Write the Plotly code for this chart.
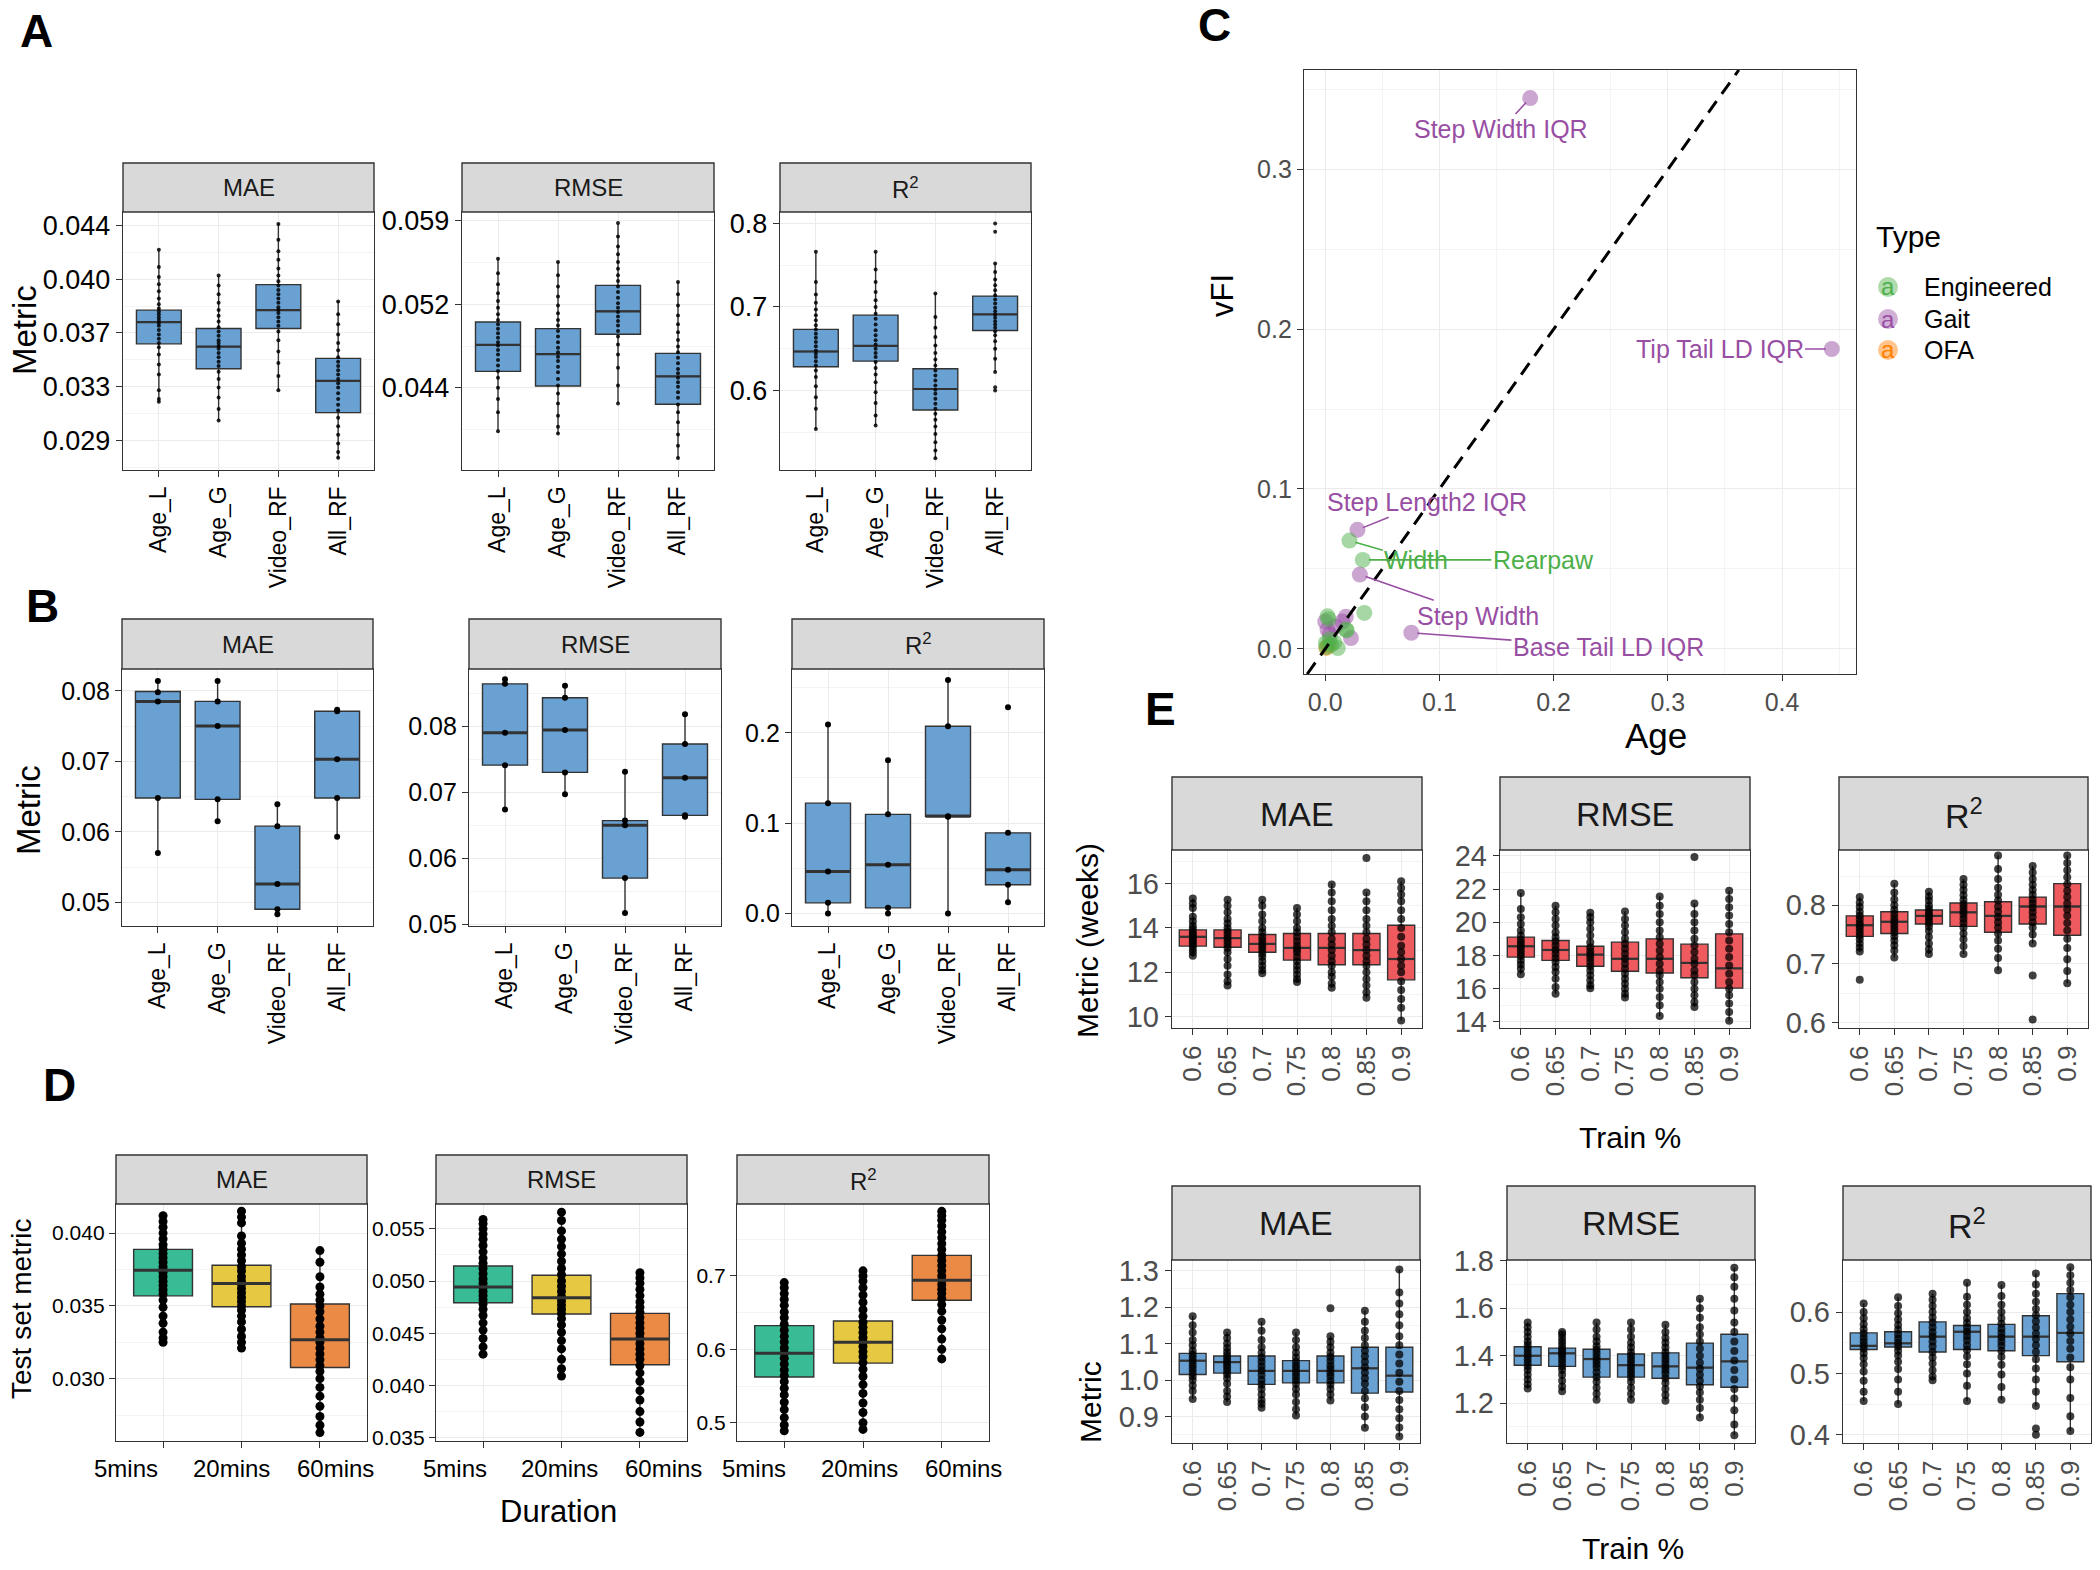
import plotly.graph_objects as go

# ============================ DATA ============================
# each box: [lower whisker, Q1, median, Q3, upper whisker]
A_CATS = ["Age_L", "Age_G", "Video_RF", "All_RF"]
A_MAE_STATS = [[0.03169, 0.03574, 0.03726, 0.03809, 0.04227],
               [0.03041, 0.03401, 0.03555, 0.03681, 0.04048],
               [0.03249, 0.03681, 0.03809, 0.03987, 0.04413],
               [0.02775, 0.03095, 0.03316, 0.03473, 0.03873]]
A_MAE_PTS = [[0.0423, 0.0411, 0.0404, 0.0399, 0.0394, 0.0389, 0.0385, 0.0382, 0.0380, 0.0378, 0.0376, 0.0374, 0.0372,
              0.0370, 0.0367, 0.0364, 0.0361, 0.0358, 0.0355, 0.0350, 0.0343, 0.0336, 0.0325, 0.0319, 0.0317],
             [0.0405, 0.0398, 0.0392, 0.0386, 0.0381, 0.0377, 0.0373, 0.0369, 0.0366, 0.0363, 0.0360, 0.0358, 0.0356,
              0.0354, 0.0351, 0.0348, 0.0345, 0.0342, 0.0338, 0.0333, 0.0327, 0.0320, 0.0312, 0.0304],
             [0.0441, 0.0430, 0.0422, 0.0416, 0.0410, 0.0405, 0.0401, 0.0398, 0.0395, 0.0392, 0.0389, 0.0386, 0.0383,
              0.0381, 0.0379, 0.0376, 0.0373, 0.0370, 0.0366, 0.0360, 0.0352, 0.0344, 0.0335, 0.0325],
             [0.0387, 0.0378, 0.0371, 0.0364, 0.0358, 0.0353, 0.0348, 0.0345, 0.0342, 0.0339, 0.0336, 0.0333, 0.0330,
              0.0327, 0.0323, 0.0319, 0.0315, 0.0311, 0.0306, 0.0300, 0.0294, 0.0288, 0.0282, 0.0278]]
A_RMSE_STATS = [[0.04012, 0.04548, 0.04785, 0.04991, 0.05557],
                [0.03988, 0.04417, 0.04702, 0.04932, 0.05533],
                [0.04263, 0.04881, 0.05087, 0.05320, 0.05876],
                [0.03765, 0.04253, 0.04503, 0.04709, 0.05351]]
A_RMSE_PTS = [[0.0556, 0.0543, 0.0533, 0.0525, 0.0518, 0.0512, 0.0506, 0.0501, 0.0497, 0.0493, 0.0489, 0.0485, 0.0481,
               0.0478, 0.0474, 0.0470, 0.0465, 0.0460, 0.0455, 0.0449, 0.0440, 0.0430, 0.0418, 0.0401],
              [0.0553, 0.0541, 0.0531, 0.0522, 0.0514, 0.0507, 0.0501, 0.0496, 0.0491, 0.0486, 0.0481, 0.0476, 0.0472,
               0.0468, 0.0464, 0.0459, 0.0454, 0.0448, 0.0442, 0.0435, 0.0426, 0.0415, 0.0405, 0.0399],
              [0.0588, 0.0576, 0.0567, 0.0560, 0.0553, 0.0547, 0.0541, 0.0536, 0.0531, 0.0526, 0.0521, 0.0516, 0.0512,
               0.0508, 0.0504, 0.0500, 0.0496, 0.0491, 0.0486, 0.0479, 0.0470, 0.0458, 0.0442, 0.0426],
              [0.0535, 0.0524, 0.0514, 0.0505, 0.0497, 0.0490, 0.0483, 0.0477, 0.0472, 0.0467, 0.0462, 0.0457, 0.0453,
               0.0449, 0.0445, 0.0441, 0.0436, 0.0431, 0.0425, 0.0418, 0.0409, 0.0398, 0.0388, 0.0377]]
A_R2_STATS = [[0.5538, 0.6284, 0.6467, 0.6732, 0.7657],
              [0.5583, 0.6352, 0.6535, 0.6902, 0.7657],
              [0.5185, 0.5766, 0.6018, 0.6261, 0.7162],
              [0.6220, 0.6718, 0.6911, 0.7130, 0.7520]]
A_R2_PTS = [[0.766, 0.730, 0.715, 0.705, 0.697, 0.690, 0.684, 0.678, 0.673, 0.668, 0.663, 0.658, 0.653, 0.648, 0.644,
             0.640, 0.635, 0.630, 0.624, 0.616, 0.605, 0.592, 0.578, 0.554],
            [0.766, 0.745, 0.730, 0.718, 0.708, 0.700, 0.692, 0.686, 0.679, 0.672, 0.666, 0.660, 0.655, 0.650, 0.645,
             0.640, 0.634, 0.627, 0.619, 0.610, 0.598, 0.585, 0.570, 0.558],
            [0.716, 0.688, 0.675, 0.664, 0.654, 0.645, 0.637, 0.630, 0.624, 0.618, 0.612, 0.606, 0.601, 0.596, 0.590,
             0.584, 0.578, 0.572, 0.565, 0.557, 0.548, 0.538, 0.528, 0.519],
            [0.800, 0.790, 0.752, 0.742, 0.733, 0.726, 0.720, 0.714, 0.709, 0.704, 0.699, 0.695, 0.691, 0.687, 0.683,
             0.679, 0.675, 0.671, 0.666, 0.659, 0.650, 0.638, 0.622, 0.604, 0.600]]
A_MAE_TICKS = [0.029, 0.03275, 0.0365, 0.04025, 0.044]
A_MAE_TICKTEXT = ["0.029", "0.033", "0.037", "0.040", "0.044"]
A_RMSE_TICKS = [0.044, 0.0515, 0.059]
A_RMSE_TICKTEXT = ["0.044", "0.052", "0.059"]
A_R2_TICKS = [0.6, 0.7, 0.8]

B_CATS = A_CATS
B_MAE_STATS = [[0.0570, 0.0648, 0.0785, 0.0799, 0.0814],
               [0.0615, 0.0646, 0.0750, 0.0785, 0.0814],
               [0.0483, 0.0490, 0.0526, 0.0608, 0.0639],
               [0.0593, 0.0648, 0.0703, 0.0771, 0.0773]]
B_MAE_PTS = [[0.0814, 0.0798, 0.0785, 0.0648, 0.0570], [0.0814, 0.0785, 0.0750, 0.0646, 0.0615],
             [0.0639, 0.0608, 0.0526, 0.0490, 0.0483], [0.0773, 0.0771, 0.0703, 0.0648, 0.0593]]
B_RMSE_STATS = [[0.0674, 0.0741, 0.0790, 0.0864, 0.0871],
                [0.0697, 0.0730, 0.0794, 0.0843, 0.0861],
                [0.0517, 0.0570, 0.0650, 0.0657, 0.0731],
                [0.0663, 0.0665, 0.0722, 0.0773, 0.0818]]
B_RMSE_PTS = [[0.0871, 0.0864, 0.0790, 0.0741, 0.0674], [0.0861, 0.0843, 0.0794, 0.0730, 0.0697],
              [0.0731, 0.0657, 0.0650, 0.0570, 0.0517], [0.0818, 0.0773, 0.0722, 0.0665, 0.0663]]
B_R2_STATS = [[0.0000, 0.0117, 0.0464, 0.1221, 0.2091],
              [0.0000, 0.0062, 0.0538, 0.1097, 0.1697],
              [0.0000, 0.1075, 0.1075, 0.2073, 0.2585],
              [0.0124, 0.0318, 0.0483, 0.0892, 0.0892]]
B_R2_PTS = [[0.2091, 0.1221, 0.0464, 0.0117, 0.0], [0.1697, 0.1097, 0.0538, 0.0062, 0.0],
            [0.2585, 0.2073, 0.1075, 0.1070, 0.0], [0.2282, 0.0892, 0.0483, 0.0318, 0.0124]]
B_MAE_TICKS = [0.05, 0.06, 0.07, 0.08]
B_RMSE_TICKS = [0.05, 0.06, 0.07, 0.08]
B_R2_TICKS = [0.0, 0.1, 0.2]

D_CATS = ["5mins", "20mins", "60mins"]
D_MAE_STATS = [[0.03251, 0.03569, 0.03745, 0.03888, 0.04116],
               [0.03205, 0.03494, 0.03654, 0.03779, 0.04148],
               [0.02629, 0.03077, 0.03267, 0.03513, 0.03877]]
D_MAE_PTS = [[0.0412, 0.0408, 0.0404, 0.0400, 0.0396, 0.0392, 0.0389, 0.0386, 0.0383, 0.0380, 0.0377, 0.0375, 0.0373,
              0.0370, 0.0367, 0.0364, 0.0361, 0.0358, 0.0354, 0.0349, 0.0343, 0.0338, 0.0332, 0.0328, 0.0325],
             [0.0415, 0.0411, 0.0407, 0.0398, 0.0393, 0.0389, 0.0385, 0.0381, 0.0377, 0.0374, 0.0370, 0.0367, 0.0365,
              0.0362, 0.0359, 0.0356, 0.0353, 0.0350, 0.0347, 0.0343, 0.0339, 0.0334, 0.0329, 0.0325, 0.0321],
             [0.0388, 0.0380, 0.0370, 0.0363, 0.0358, 0.0354, 0.0350, 0.0346, 0.0341, 0.0336, 0.0332, 0.0328, 0.0325,
              0.0321, 0.0317, 0.0313, 0.0309, 0.0305, 0.0300, 0.0294, 0.0288, 0.0281, 0.0274, 0.0268, 0.0263]]
D_RMSE_STATS = [[0.04303, 0.04792, 0.04944, 0.05144, 0.05589],
                [0.04093, 0.04684, 0.04840, 0.05056, 0.05659],
                [0.03554, 0.04198, 0.04446, 0.04690, 0.05078]]
D_RMSE_PTS = [[0.0559, 0.0555, 0.0550, 0.0545, 0.0540, 0.0534, 0.0528, 0.0522, 0.0517, 0.0512, 0.0507, 0.0502, 0.0498,
               0.0494, 0.0490, 0.0486, 0.0482, 0.0478, 0.0473, 0.0467, 0.0460, 0.0453, 0.0445, 0.0437, 0.0430],
              [0.0566, 0.0558, 0.0548, 0.0540, 0.0533, 0.0526, 0.0519, 0.0512, 0.0506, 0.0500, 0.0495, 0.0490, 0.0485,
               0.0481, 0.0477, 0.0473, 0.0469, 0.0464, 0.0458, 0.0451, 0.0443, 0.0435, 0.0425, 0.0416, 0.0409],
              [0.0508, 0.0503, 0.0498, 0.0492, 0.0486, 0.0480, 0.0475, 0.0470, 0.0465, 0.0460, 0.0455, 0.0450, 0.0445,
               0.0440, 0.0435, 0.0430, 0.0425, 0.0419, 0.0412, 0.0404, 0.0395, 0.0386, 0.0375, 0.0365, 0.0355]]
D_R2_STATS = [[0.4887, 0.5623, 0.5948, 0.6323, 0.6910],
              [0.4910, 0.5813, 0.6097, 0.6386, 0.7068],
              [0.5880, 0.6670, 0.6941, 0.7280, 0.7880]]
D_R2_PTS = [[0.691, 0.684, 0.676, 0.668, 0.660, 0.651, 0.643, 0.634, 0.626, 0.618, 0.610, 0.602, 0.595, 0.588, 0.580,
             0.572, 0.564, 0.556, 0.547, 0.538, 0.528, 0.518, 0.507, 0.497, 0.489],
            [0.707, 0.700, 0.693, 0.684, 0.674, 0.664, 0.654, 0.645, 0.637, 0.630, 0.623, 0.616, 0.610, 0.604, 0.597,
             0.590, 0.582, 0.573, 0.563, 0.552, 0.540, 0.527, 0.514, 0.500, 0.491],
            [0.788, 0.782, 0.776, 0.768, 0.760, 0.752, 0.744, 0.736, 0.728, 0.721, 0.714, 0.707, 0.700, 0.694, 0.688,
             0.682, 0.676, 0.669, 0.661, 0.652, 0.640, 0.628, 0.614, 0.600, 0.587]]
D_MAE_TICKS = [0.030, 0.035, 0.040]
D_RMSE_TICKS = [0.035, 0.040, 0.045, 0.050, 0.055]
D_R2_TICKS = [0.5, 0.6, 0.7]

# Panel C: feature importance (vFI) vs Age
C_ENG_X = [0.0212, 0.0329, 0.0342, 0.0020, 0.0030, 0.0180, 0.0006, 0.0050, 0.0110, 0.0190, 0.0080, 0.0010, 0.0040]
C_ENG_Y = [0.0677, 0.0556, 0.0224, 0.0203, 0.0185, 0.0120, 0.0036, 0.0025, 0.0004, 0.0115, 0.0040, 0.0010, 0.0060]
C_GAIT_X = [0.1795, 0.4436, 0.0282, 0.0303, 0.0754, 0.0180, 0.0225, 0.0020, 0.0090, 0.0000, 0.0150, 0.0040]
C_GAIT_Y = [0.3446, 0.1876, 0.0744, 0.0464, 0.0100, 0.0200, 0.0067, 0.0120, 0.0140, 0.0170, 0.0170, 0.0090]
C_OFA_X = [0.0010, 0.0030]
C_OFA_Y = [0.0005, 0.0020]
C_TYPES = ["Engineered", "Gait", "OFA"]
C_LABEL_TEXT = ["Step Width IQR", "Tip Tail LD IQR", "Step Length2 IQR", "Width", "Rearpaw", "Step Width",
                "Base Tail LD IQR"]
C_LABEL_SRC = [("Gait", 0), ("Gait", 1), ("Gait", 2), ("Engineered", 0), ("Engineered", 1), ("Gait", 3), ("Gait", 4)]
C_XTICKS = [0.0, 0.1, 0.2, 0.3, 0.4]
C_YTICKS = [0.0, 0.1, 0.2, 0.3]

# Panel E
E_CATS = ["0.6", "0.65", "0.7", "0.75", "0.8", "0.85", "0.9"]
E1_MAE_STATS = [[12.70, 13.18, 13.60, 13.91, 15.32], [11.40, 13.13, 13.54, 13.91, 15.27],
                [11.96, 12.90, 13.28, 13.70, 15.27], [11.56, 12.55, 13.10, 13.75, 14.90],
                [11.30, 12.34, 13.10, 13.75, 16.00], [10.85, 12.34, 13.00, 13.75, 15.60],
                [9.83, 11.66, 12.60, 14.12, 16.10]]
E1_MAE_PTS = [[15.32, 15.1, 14.9, 14.5, 14.3, 14.1, 13.95, 13.8, 13.7, 13.6, 13.5, 13.4, 13.3, 13.2, 13.05, 12.9, 12.75],
              [15.27, 15.0, 14.7, 14.4, 14.2, 14.0, 13.85, 13.7, 13.55, 13.4, 13.25, 13.1, 12.9, 12.6, 12.3, 11.9, 11.6, 11.4],
              [15.27, 15.0, 14.6, 14.3, 14.0, 13.8, 13.6, 13.45, 13.3, 13.15, 13.0, 12.85, 12.7, 12.5, 12.3, 12.1, 11.96],
              [14.9, 14.6, 14.3, 14.0, 13.8, 13.6, 13.4, 13.2, 13.05, 12.9, 12.7, 12.5, 12.3, 12.1, 11.9, 11.7, 11.56],
              [15.95, 15.6, 15.2, 14.8, 14.4, 14.1, 13.8, 13.5, 13.25, 13.0, 12.75, 12.5, 12.3, 12.0, 11.8, 11.5, 11.3],
              [17.15, 15.6, 15.2, 14.8, 14.4, 14.1, 13.8, 13.5, 13.25, 13.0, 12.75, 12.5, 12.3, 12.0, 11.7, 11.4, 11.1, 10.85],
              [16.1, 15.8, 15.5, 15.2, 14.8, 14.4, 14.0, 13.6, 13.2, 12.9, 12.6, 12.3, 12.0, 11.6, 11.2, 10.8, 10.4, 9.83]]
E1_RMSE_STATS = [[16.87, 17.90, 18.55, 19.10, 21.76], [15.70, 17.70, 18.33, 18.90, 21.00],
                 [16.03, 17.35, 18.05, 18.55, 20.57], [15.47, 17.05, 17.80, 18.80, 20.64],
                 [14.35, 16.94, 17.80, 19.00, 21.55], [14.90, 16.66, 17.55, 18.68, 21.13],
                 [14.07, 16.03, 17.22, 19.30, 21.90]]
E1_RMSE_PTS = [[21.76, 20.8, 20.3, 19.9, 19.5, 19.2, 18.95, 18.75, 18.55, 18.35, 18.15, 17.95, 17.7, 17.45, 17.2, 16.87],
               [21.0, 20.6, 20.2, 19.8, 19.4, 19.1, 18.85, 18.6, 18.35, 18.1, 17.85, 17.6, 17.3, 17.0, 16.6, 16.1, 15.7],
               [20.57, 20.3, 20.0, 19.6, 19.2, 18.8, 18.5, 18.25, 18.05, 17.85, 17.6, 17.35, 17.1, 16.8, 16.5, 16.2, 16.03],
               [20.64, 20.2, 19.8, 19.4, 19.0, 18.7, 18.4, 18.1, 17.8, 17.5, 17.2, 16.9, 16.6, 16.3, 16.0, 15.7, 15.47],
               [21.55, 21.0, 20.5, 20.0, 19.5, 19.1, 18.7, 18.3, 17.9, 17.5, 17.1, 16.8, 16.4, 16.0, 15.5, 15.0, 14.35],
               [23.93, 21.13, 20.5, 20.0, 19.5, 19.0, 18.6, 18.2, 17.8, 17.5, 17.1, 16.8, 16.4, 16.0, 15.6, 15.2, 14.9],
               [21.9, 21.4, 20.9, 20.4, 19.9, 19.4, 18.9, 18.4, 17.9, 17.4, 16.9, 16.4, 16.0, 15.6, 15.1, 14.6, 14.07]]
E1_R2_STATS = [[0.721, 0.747, 0.766, 0.782, 0.814], [0.711, 0.752, 0.772, 0.789, 0.837],
               [0.717, 0.768, 0.782, 0.792, 0.823], [0.717, 0.764, 0.788, 0.804, 0.845],
               [0.689, 0.754, 0.782, 0.806, 0.885], [0.735, 0.768, 0.798, 0.814, 0.867],
               [0.667, 0.749, 0.798, 0.837, 0.885]]
E1_R2_PTS = [[0.814, 0.805, 0.797, 0.789, 0.782, 0.776, 0.770, 0.765, 0.760, 0.754, 0.748, 0.742, 0.735, 0.728, 0.721, 0.673],
             [0.837, 0.822, 0.810, 0.800, 0.792, 0.785, 0.778, 0.772, 0.766, 0.760, 0.754, 0.747, 0.740, 0.732, 0.723, 0.711],
             [0.823, 0.815, 0.808, 0.800, 0.794, 0.789, 0.784, 0.780, 0.775, 0.770, 0.764, 0.756, 0.746, 0.735, 0.725, 0.717],
             [0.845, 0.835, 0.826, 0.817, 0.809, 0.802, 0.796, 0.790, 0.784, 0.777, 0.770, 0.762, 0.752, 0.742, 0.730, 0.717],
             [0.885, 0.862, 0.845, 0.830, 0.818, 0.808, 0.798, 0.789, 0.780, 0.771, 0.762, 0.752, 0.740, 0.726, 0.710, 0.689],
             [0.867, 0.856, 0.845, 0.835, 0.826, 0.818, 0.810, 0.803, 0.796, 0.788, 0.780, 0.771, 0.762, 0.750, 0.735, 0.680, 0.605],
             [0.885, 0.872, 0.860, 0.848, 0.836, 0.825, 0.814, 0.803, 0.793, 0.782, 0.770, 0.757, 0.743, 0.727, 0.708, 0.688, 0.667]]
E1_MAE_TICKS = [10, 12, 14, 16]
E1_RMSE_TICKS = [14, 16, 18, 20, 22, 24]
E1_R2_TICKS = [0.6, 0.7, 0.8]

E2_MAE_STATS = [[0.948, 1.015, 1.053, 1.073, 1.175], [0.940, 1.019, 1.049, 1.066, 1.130],
                [0.924, 0.988, 1.025, 1.066, 1.160], [0.903, 0.992, 1.025, 1.053, 1.130],
                [0.944, 0.992, 1.025, 1.066, 1.120], [0.869, 0.964, 1.032, 1.090, 1.190],
                [0.845, 0.967, 1.012, 1.090, 1.303]]
E2_MAE_PTS = [[1.175, 1.15, 1.13, 1.11, 1.095, 1.08, 1.07, 1.06, 1.05, 1.04, 1.03, 1.02, 1.01, 1.0, 0.985, 0.97, 0.948],
              [1.13, 1.115, 1.10, 1.088, 1.077, 1.067, 1.058, 1.05, 1.042, 1.034, 1.025, 1.016, 1.005, 0.99, 0.97, 0.955, 0.94],
              [1.16, 1.135, 1.11, 1.09, 1.075, 1.062, 1.05, 1.038, 1.026, 1.014, 1.0, 0.988, 0.975, 0.96, 0.945, 0.935, 0.924],
              [1.13, 1.11, 1.09, 1.075, 1.062, 1.05, 1.04, 1.03, 1.02, 1.01, 1.0, 0.99, 0.975, 0.96, 0.94, 0.92, 0.903],
              [1.197, 1.12, 1.105, 1.09, 1.075, 1.063, 1.052, 1.04, 1.03, 1.02, 1.01, 0.998, 0.988, 0.975, 0.96, 0.944],
              [1.19, 1.16, 1.135, 1.115, 1.095, 1.08, 1.065, 1.05, 1.035, 1.02, 1.005, 0.99, 0.97, 0.95, 0.925, 0.9, 0.869],
              [1.303, 1.24, 1.21, 1.18, 1.15, 1.12, 1.095, 1.07, 1.045, 1.02, 0.995, 0.97, 0.945, 0.92, 0.895, 0.87, 0.845]]
E2_RMSE_STATS = [[1.262, 1.360, 1.400, 1.438, 1.540], [1.250, 1.355, 1.410, 1.432, 1.500],
                 [1.215, 1.310, 1.386, 1.427, 1.540], [1.215, 1.310, 1.360, 1.407, 1.540],
                 [1.210, 1.305, 1.355, 1.412, 1.530], [1.140, 1.278, 1.350, 1.453, 1.640],
                 [1.065, 1.267, 1.376, 1.490, 1.770]]
E2_RMSE_PTS = [[1.54, 1.52, 1.50, 1.48, 1.46, 1.445, 1.43, 1.415, 1.40, 1.385, 1.37, 1.355, 1.34, 1.32, 1.30, 1.28, 1.262],
               [1.50, 1.49, 1.475, 1.46, 1.445, 1.43, 1.42, 1.41, 1.40, 1.385, 1.37, 1.355, 1.34, 1.32, 1.295, 1.27, 1.25],
               [1.54, 1.51, 1.48, 1.46, 1.44, 1.425, 1.41, 1.395, 1.38, 1.365, 1.35, 1.33, 1.31, 1.29, 1.265, 1.24, 1.215],
               [1.54, 1.51, 1.48, 1.455, 1.435, 1.415, 1.40, 1.385, 1.37, 1.355, 1.34, 1.325, 1.31, 1.29, 1.265, 1.24, 1.215],
               [1.53, 1.50, 1.475, 1.455, 1.435, 1.415, 1.40, 1.385, 1.37, 1.355, 1.34, 1.325, 1.305, 1.285, 1.26, 1.235, 1.21],
               [1.64, 1.60, 1.56, 1.52, 1.49, 1.46, 1.43, 1.40, 1.37, 1.345, 1.32, 1.295, 1.27, 1.245, 1.215, 1.18, 1.14],
               [1.77, 1.73, 1.69, 1.64, 1.59, 1.54, 1.50, 1.46, 1.42, 1.38, 1.34, 1.30, 1.26, 1.22, 1.17, 1.11, 1.065]]
E2_R2_STATS = [[0.455, 0.539, 0.545, 0.566, 0.614], [0.450, 0.543, 0.549, 0.568, 0.624],
               [0.489, 0.535, 0.560, 0.584, 0.630], [0.455, 0.539, 0.568, 0.578, 0.648],
               [0.457, 0.537, 0.560, 0.580, 0.644], [0.447, 0.529, 0.560, 0.594, 0.663],
               [0.406, 0.519, 0.566, 0.630, 0.673]]
E2_R2_PTS = [[0.614, 0.600, 0.590, 0.580, 0.572, 0.565, 0.558, 0.552, 0.546, 0.540, 0.533, 0.525, 0.515, 0.503, 0.488, 0.470, 0.455],
             [0.624, 0.610, 0.598, 0.588, 0.579, 0.571, 0.564, 0.557, 0.550, 0.544, 0.537, 0.529, 0.519, 0.507, 0.490, 0.470, 0.450],
             [0.630, 0.620, 0.610, 0.600, 0.591, 0.583, 0.575, 0.567, 0.560, 0.552, 0.544, 0.535, 0.526, 0.516, 0.505, 0.495, 0.489],
             [0.648, 0.625, 0.612, 0.600, 0.590, 0.582, 0.575, 0.568, 0.561, 0.554, 0.546, 0.538, 0.528, 0.515, 0.500, 0.480, 0.455],
             [0.644, 0.626, 0.612, 0.600, 0.590, 0.581, 0.573, 0.566, 0.559, 0.552, 0.545, 0.537, 0.527, 0.514, 0.498, 0.478, 0.457],
             [0.663, 0.645, 0.630, 0.617, 0.605, 0.595, 0.585, 0.575, 0.565, 0.556, 0.546, 0.535, 0.523, 0.508, 0.490, 0.470, 0.447, 0.410, 0.400],
             [0.673, 0.660, 0.648, 0.636, 0.624, 0.612, 0.600, 0.588, 0.576, 0.565, 0.553, 0.540, 0.526, 0.510, 0.490, 0.460, 0.430, 0.406]]
E2_MAE_TICKS = [0.9, 1.0, 1.1, 1.2, 1.3]
E2_RMSE_TICKS = [1.2, 1.4, 1.6, 1.8]
E2_R2_TICKS = [0.4, 0.5, 0.6]

# ============================ STYLE / LAYOUT ============================
W, H = 2100, 1570
FONT = "Liberation Sans, Arial, sans-serif"
BORDER = "#333333"
GRID = "#EBEBEB"
MINOR = "#F4F4F4"
BLUE = "#69A1D3"
RED = "#EE5A5E"
D_FILLS = ["rgba(30,178,136,0.88)", "rgba(226,192,40,0.88)", "rgba(232,122,42,0.88)"]
C_COLORS = {"Engineered": "#4DAF4A", "Gait": "#984EA3", "OFA": "#FF7F00"}
R2 = "R<sup>2</sup>"

fig = go.Figure()
lay = dict(width=W, height=H, autosize=False,
           margin=dict(l=0, r=0, t=0, b=0, pad=0, autoexpand=False), paper_bgcolor="white",
           plot_bgcolor="white", showlegend=False, font=dict(family=FONT, color="black"),
           boxmode="overlay")
annots, shapes = [], []
counter = [0]


def fx(p):
    return p / W


def fy(p):
    return 1 - p / H


def base_axis():
    return dict(showline=True, mirror=True, linecolor=BORDER, linewidth=1.4, ticks="outside", ticklen=6,
                tickwidth=1.4, tickcolor=BORDER, showgrid=True, gridcolor=GRID, gridwidth=1.4,
                zeroline=False, fixedrange=True, automargin=False)


def minor_vals(tv, rng):
    step = (tv[1] - tv[0]) / 2.0
    cand = [tv[0] - step] + [t + step for t in tv]
    return [c for c in cand if min(rng) < c < max(rng)]


def make_axes(x0, x1, y0, y1, xr, yr, xkw, ykw):
    counter[0] += 1
    n = counter[0]
    s = "" if n == 1 else str(n)
    lay["xaxis" + s] = dict(domain=[fx(x0), fx(x1)], range=xr, anchor="y" + s, **xkw)
    lay["yaxis" + s] = dict(domain=[fy(y1), fy(y0)], range=yr, anchor="x" + s, **ykw)
    return "x" + s, "y" + s


def text_at(px, py, text, size, angle=0, color="black", xanchor="center", yanchor="middle"):
    annots.append(dict(xref="paper", yref="paper", x=fx(px), y=fy(py), text=text, showarrow=False,
                       textangle=angle, font=dict(size=size, color=color, family=FONT),
                       xanchor=xanchor, yanchor=yanchor))


def strip(x0, x1, y0, y1, text, size):
    shapes.append(dict(type="rect", xref="paper", yref="paper", x0=fx(x0), x1=fx(x1), y0=fy(y1), y1=fy(y0),
                       fillcolor="#D9D9D9", line=dict(color=BORDER, width=1.4), layer="above"))
    text_at((x0 + x1) / 2, (y0 + y1) / 2, text, size, color="#1A1A1A")


def box_facet(geom, strip_text, cats, stats, pts, yr, tv, tt, fills, st):
    x0, x1, y0, y1, s0 = geom
    n = len(cats)
    pos = list(range(n))
    xkw = base_axis()
    xkw.update(tickvals=pos, ticktext=cats, showticklabels=st.get("xlabels", True),
               tickangle=st["xangle"], tickfont=dict(size=st["xtick"], color=st["tcol"], family=FONT))
    ykw = base_axis()
    ykw.update(tickvals=tv, ticktext=tt if tt is not None else [st["fmt"].format(v) for v in tv],
               tickfont=dict(size=st["ytick"], color=st["tcol"], family=FONT),
               minor=dict(tickvals=minor_vals(tv, yr), showgrid=True, gridcolor=MINOR, gridwidth=1, ticks=""))
    xa, ya = make_axes(x0, x1, y0, y1, [-0.6, n - 0.4], yr, xkw, ykw)
    strip(x0, x1, s0, y0, strip_text, st["strip"])
    xs, ys = [], []
    for i, p in enumerate(pts):
        xs += [i] * len(p)
        ys += p
    pt_trace = go.Scatter(x=xs, y=ys, mode="markers", xaxis=xa, yaxis=ya, hoverinfo="skip",
                          marker=dict(size=st["pt"], color="black", opacity=st["pto"], line=dict(width=0)))
    if st["below"]:
        fig.add_trace(pt_trace)
    bw = st["bw"]
    for i, s in enumerate(stats):
        fill = fills[i] if isinstance(fills, list) else fills
        fig.add_trace(go.Box(x=[i], lowerfence=[s[0]], q1=[s[1]], median=[s[2]], q3=[s[3]], upperfence=[s[4]],
                             width=bw, fillcolor=fill, line=dict(color=BORDER, width=1.4), whiskerwidth=0,
                             boxpoints=False, xaxis=xa, yaxis=ya, hoverinfo="skip"))
    mx, my = [], []
    for i, s in enumerate(stats):
        mx += [i - bw / 2, i + bw / 2, None]
        my += [s[2], s[2], None]
    fig.add_trace(go.Scatter(x=mx, y=my, mode="lines", line=dict(color=BORDER, width=st["medw"]),
                             xaxis=xa, yaxis=ya, hoverinfo="skip"))
    if not st["below"]:
        fig.add_trace(pt_trace)


ST_A = dict(xangle=-90, xtick=23, ytick=27, tcol="black", strip=24, pt=4, pto=0.85, below=False, bw=0.75,
            medw=2.2, fmt="{:.3f}")
ST_B = dict(ST_A, ytick=25, pt=6, pto=1.0, medw=3, fmt="{:.2f}")
ST_D = dict(xangle=0, xtick=24, ytick=21, tcol="black", strip=24, pt=9, pto=1.0, below=True, bw=0.75,
            medw=3, fmt="{:.3f}", xlabels=False)
ST_E = dict(xangle=-90, xtick=26, ytick=29, tcol="#4D4D4D", strip=34, pt=8, pto=0.75, below=False, bw=0.78,
            medw=2.2, fmt="{:g}")

# ---------------- Panel A ----------------
box_facet((123, 374, 212, 470, 163), "MAE", A_CATS, A_MAE_STATS, A_MAE_PTS, [0.02695, 0.04493],
          A_MAE_TICKS, A_MAE_TICKTEXT, BLUE, ST_A)
box_facet((462, 714, 212, 470, 163), "RMSE", A_CATS, A_RMSE_STATS, A_RMSE_PTS, [0.03662, 0.05979],
          A_RMSE_TICKS, A_RMSE_TICKTEXT, BLUE, ST_A)
box_facet((780, 1031, 212, 470, 163), R2, A_CATS, A_R2_STATS, A_R2_PTS, [0.5048, 0.8137],
          A_R2_TICKS, None, BLUE, dict(ST_A, fmt="{:.1f}"))

# ---------------- Panel B ----------------
box_facet((122, 373, 669, 926, 619), "MAE", B_CATS, B_MAE_STATS, B_MAE_PTS, [0.04663, 0.0831],
          B_MAE_TICKS, None, BLUE, ST_B)
box_facet((469, 721, 669, 926, 619), "RMSE", B_CATS, B_RMSE_STATS, B_RMSE_PTS, [0.04975, 0.08865],
          B_RMSE_TICKS, None, BLUE, ST_B)
box_facet((792, 1044, 669, 926, 619), R2, B_CATS, B_R2_STATS, B_R2_PTS, [-0.0139, 0.2706],
          B_R2_TICKS, None, BLUE, dict(ST_B, fmt="{:.1f}"))

# ---------------- Panel D ----------------
box_facet((116, 367, 1204, 1441, 1155), "MAE", D_CATS, D_MAE_STATS, D_MAE_PTS, [0.02572, 0.0420],
          D_MAE_TICKS, None, D_FILLS, ST_D)
box_facet((436, 687, 1204, 1441, 1155), "RMSE", D_CATS, D_RMSE_STATS, D_RMSE_PTS, [0.03468, 0.05738],
          D_RMSE_TICKS, None, D_FILLS, ST_D)
box_facet((737, 989, 1204, 1441, 1155), R2, D_CATS, D_R2_STATS, D_R2_PTS, [0.4752, 0.798],
          D_R2_TICKS, None, D_FILLS, dict(ST_D, fmt="{:.1f}"))
# D category labels (spread wider than the ticks, as in the original figure)
D_LABEL_X = [[126, 231, 335], [455, 559, 663], [754, 859, 963]]
for row in D_LABEL_X:
    for cat, lx in zip(D_CATS, row):
        text_at(lx, 1468, cat, 24)

# ---------------- Panel E (top, weeks) ----------------
box_facet((1172, 1422, 850, 1028, 777), "MAE", E_CATS, E1_MAE_STATS, E1_MAE_PTS, [9.49, 17.51],
          E1_MAE_TICKS, None, RED, ST_E)
box_facet((1500, 1750, 850, 1028, 777), "RMSE", E_CATS, E1_RMSE_STATS, E1_RMSE_PTS, [13.63, 24.35],
          E1_RMSE_TICKS, None, RED, ST_E)
box_facet((1839, 2088, 850, 1028, 777), R2, E_CATS, E1_R2_STATS, E1_R2_PTS, [0.5906, 0.8944],
          E1_R2_TICKS, None, RED, dict(ST_E, fmt="{:.1f}"))

# ---------------- Panel E (bottom) ----------------
box_facet((1172, 1420, 1260, 1443, 1186), "MAE", E_CATS, E2_MAE_STATS, E2_MAE_PTS, [0.8273, 1.329],
          E2_MAE_TICKS, None, BLUE, dict(ST_E, fmt="{:.1f}"))
box_facet((1507, 1755, 1260, 1443, 1186), "RMSE", E_CATS, E2_RMSE_STATS, E2_RMSE_PTS, [1.0326, 1.8028],
          E2_RMSE_TICKS, None, BLUE, dict(ST_E, fmt="{:.1f}"))
box_facet((1843, 2091, 1260, 1443, 1186), R2, E_CATS, E2_R2_STATS, E2_R2_PTS, [0.3865, 0.6849],
          E2_R2_TICKS, None, BLUE, dict(ST_E, fmt="{:.1f}"))

# ---------------- Panel C ----------------
C_XR = [-0.0186, 0.4648]
C_YR = [-0.0158, 0.3622]
cx = base_axis()
cx.update(tickvals=C_XTICKS, ticktext=["{:.1f}".format(v) for v in C_XTICKS],
          tickfont=dict(size=25, color="#4D4D4D", family=FONT),
          minor=dict(tickvals=minor_vals(C_XTICKS, C_XR), showgrid=True, gridcolor=MINOR, gridwidth=1, ticks=""))
cy = base_axis()
cy.update(tickvals=C_YTICKS, ticktext=["{:.1f}".format(v) for v in C_YTICKS],
          tickfont=dict(size=25, color="#4D4D4D", family=FONT),
          minor=dict(tickvals=minor_vals(C_YTICKS, C_YR), showgrid=True, gridcolor=MINOR, gridwidth=1, ticks=""))
cxa, cya = make_axes(1304, 1856, 70, 674, C_XR, C_YR, cx, cy)
C_SERIES = {"Engineered": (C_ENG_X, C_ENG_Y), "Gait": (C_GAIT_X, C_GAIT_Y), "OFA": (C_OFA_X, C_OFA_Y)}
for t in ["OFA", "Gait", "Engineered"]:
    xs, ys = C_SERIES[t]
    fig.add_trace(go.Scatter(x=xs, y=ys, mode="markers", xaxis=cxa, yaxis=cya, hoverinfo="skip",
                             marker=dict(size=16, color=C_COLORS[t], opacity=0.5, line=dict(width=0))))
shapes.append(dict(type="line", xref=cxa, yref=cya, x0=C_YR[0], y0=C_YR[0], x1=C_YR[1], y1=C_YR[1],
                   line=dict(color="black", width=3, dash="14px,9px"), layer="above"))
# label placements (text centre, data units)
C_LABEL_POS = [(0.154, 0.325), (0.3453, 0.1876), (0.0892, 0.092), (0.0797, 0.0556), (0.191, 0.0556),
               (0.134, 0.0206), (0.248, 0.0009)]
for txt, (typ, idx), (lx, ly) in zip(C_LABEL_TEXT, C_LABEL_SRC, C_LABEL_POS):
    px_, py_ = C_SERIES[typ][0][idx], C_SERIES[typ][1][idx]
    annots.append(dict(xref=cxa, yref=cya, axref=cxa, ayref=cya, x=px_, y=py_, ax=lx, ay=ly, text=txt,
                       showarrow=True, arrowhead=0, arrowwidth=1.6, arrowcolor=C_COLORS[typ], standoff=6,
                       font=dict(size=25, color=C_COLORS[typ], family=FONT)))
text_at(1223, 296, "vFI", 31, angle=-90)
text_at(1656, 735, "Age", 35)
# legend
text_at(1874, 237, "Type", 30, xanchor="left")
for t, yy in zip(C_TYPES, [287, 319, 350]):
    shapes.append(dict(type="circle", xref="paper", yref="paper", x0=fx(1878), x1=fx(1898), y0=fy(yy + 10),
                       y1=fy(yy - 10), fillcolor=C_COLORS[t], opacity=0.45, line=dict(width=0)))
    text_at(1888, yy, "a", 24, color=C_COLORS[t])
    text_at(1922, yy, t, 25, xanchor="left")

# ---------------- titles & panel letters ----------------
text_at(25, 330, "Metric", 33, angle=-90)
text_at(28, 810, "Metric", 33, angle=-90)
text_at(21, 1309, "Test set metric", 28, angle=-90)
text_at(558, 1511, "Duration", 31)
text_at(1087, 941, "Metric (weeks)", 30, angle=-90)
text_at(1630, 1137, "Train %", 30)
text_at(1090, 1402, "Metric", 30, angle=-90)
text_at(1633, 1548, "Train %", 30)
for letter, (lx, ly) in zip("ABCDE", [(36, 31), (42, 606), (1214, 25), (59, 1085), (1160, 709)]):
    text_at(lx, ly, "<b>" + letter + "</b>", 46)

lay["annotations"] = annots
lay["shapes"] = shapes
fig.update_layout(**lay)
fig.write_html("out.html", config={"displayModeBar": False},
               post_script="document.body.style.margin='0px';")
